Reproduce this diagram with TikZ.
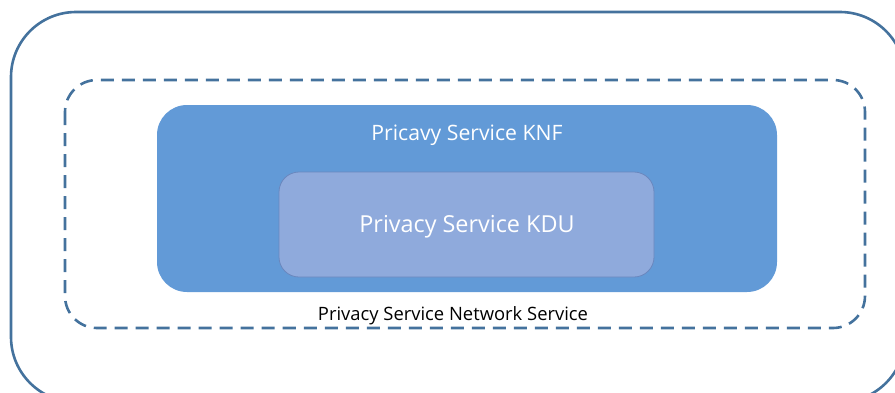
\documentclass[tikz,border=0pt]{standalone}
\usepackage{fontspec}
\setmainfont{Open Sans}
\definecolor{outerline}{HTML}{44729D}
\definecolor{knfblue}{HTML}{629AD7}
\definecolor{kdufill}{HTML}{8FAADC}
\definecolor{kduline}{HTML}{6A87BE}
\tikzset{
  outerbox/.style={draw=outerline, line width=2.6pt, rounded corners=65pt},
  nsbox/.style={draw=outerline, line width=2.6pt, dash pattern=on 13pt off 8pt, rounded corners=32pt},
  knfbox/.style={fill=knfblue, draw=none, rounded corners=30pt},
  kdubox/.style={fill=kdufill, draw=kduline, line width=0.8pt, rounded corners=20pt},
  whitelabel/.style={text=white, inner sep=0pt, anchor=base},
  blacklabel/.style={text=black, inner sep=0pt, anchor=base},
}
\begin{document}
\begin{tikzpicture}[x=1pt,y=-1pt]
\useasboundingbox (0,0) rectangle (895,392);
\begin{scope}
\clip (0,0) rectangle (895,392);
\draw[outerbox] (11,12) rectangle (905,402);
\end{scope}
\draw[nsbox] (65,80) rectangle (865,328);
\fill[knfbox] (157,105) rectangle (777,292);
\draw[kdubox] (279,172) rectangle (654,277);
\node[whitelabel, font=\fontsize{21.2}{25}\selectfont] (knf) at (467,140) {Pricavy Service KNF};
\node[whitelabel, font=\fontsize{23.4}{28}\selectfont] (kdu) at (467,232) {Privacy Service KDU};
\node[blacklabel, font=\fontsize{18.4}{22}\selectfont] (ns) at (453,320) {Privacy Service Network Service};
\end{tikzpicture}
\end{document}
